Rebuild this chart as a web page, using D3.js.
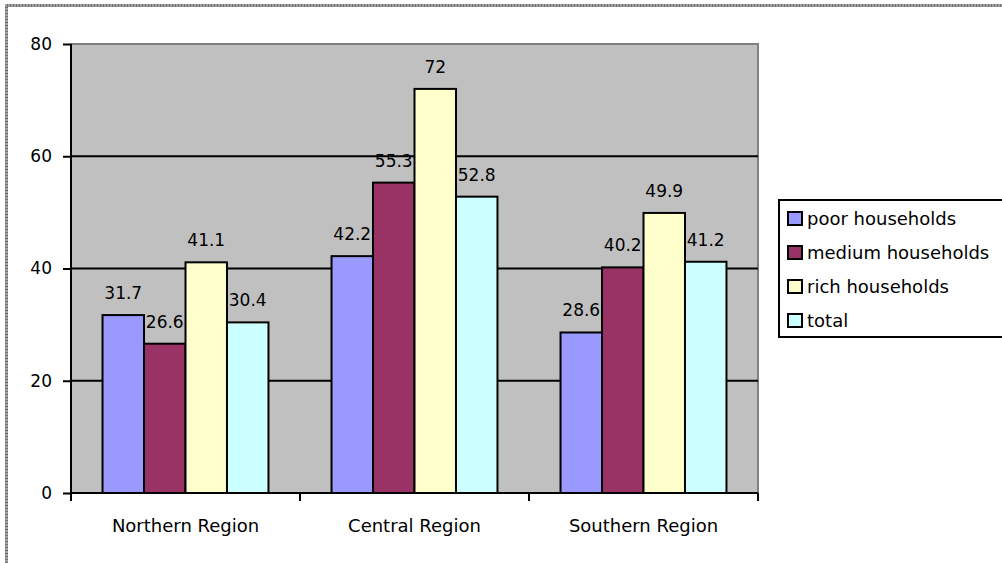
<!DOCTYPE html>
<html>
<head>
<meta charset="utf-8">
<script src="https://cdn.jsdelivr.net/npm/d3@7"></script>
<style>
  body { margin: 0; background: #fff; }
  svg text { font-family: "DejaVu Sans", Verdana, sans-serif; fill: #000; }
</style>
</head>
<body>
<svg id="chart" width="1002" height="563"></svg>
<script>
// Chart data
const regions = ['Northern Region', 'Central Region', 'Southern Region'];
const seriesNames = ['poor households', 'medium households', 'rich households', 'total'];
const seriesColors = ['#9999FF', '#993366', '#FFFFCC', '#CCFFFF'];
const poorValues = [31.7, 42.2, 28.6];
const mediumValues = [26.6, 55.3, 40.2];
const richValues = [41.1, 72, 49.9];
const totalValues = [30.4, 52.8, 41.2];
const yTicks = [0, 20, 40, 60, 80];

const seriesValues = [poorValues, mediumValues, richValues, totalValues];

const svg = d3.select('#chart');

// Frame around the chart object (speckled gray border)
const framePath = 'M6.5,563V5.5H1002';
svg.append('path').attr('d', framePath).attr('fill', 'none')
  .attr('stroke', '#a0a0a0').attr('stroke-width', 3);
svg.append('path').attr('d', framePath).attr('fill', 'none')
  .attr('stroke', '#707070').attr('stroke-width', 3).attr('stroke-dasharray', '1,2');

// Plot area
const plotL = 71, plotR = 758, plotT = 44, plotB = 493;

const x0 = d3.scaleBand().domain(regions).range([plotL, plotR]).paddingInner(0).paddingOuter(0);
const x1 = d3.scaleBand().domain(seriesNames).range([0, x0.bandwidth()]).paddingInner(0).paddingOuter(0.76);
const y = d3.scaleLinear().domain([0, 80]).range([plotB, plotT]);

svg.append('rect').attr('x', plotL).attr('y', plotT)
  .attr('width', plotR - plotL).attr('height', plotB - plotT)
  .attr('fill', '#C0C0C0').attr('stroke', '#808080').attr('stroke-width', 2);

// Gridlines
svg.append('g').selectAll('line')
  .data(yTicks.filter(d => d > 0 && d < 80))
  .join('line')
  .attr('x1', plotL).attr('x2', plotR)
  .attr('y1', d => y(d)).attr('y2', d => y(d))
  .attr('stroke', '#000').attr('stroke-width', 2);

// Bars
const groups = svg.append('g').selectAll('g')
  .data(regions)
  .join('g')
  .attr('transform', d => `translate(${x0(d)},0)`);

groups.selectAll('rect')
  .data((d, i) => seriesNames.map((s, j) => ({ s, j, v: seriesValues[j][i] })))
  .join('rect')
  .attr('x', d => x1(d.s))
  .attr('y', d => y(d.v))
  .attr('width', x1.bandwidth())
  .attr('height', d => y(0) - y(d.v))
  .attr('fill', d => seriesColors[d.j])
  .attr('stroke', '#000').attr('stroke-width', 2);

groups.selectAll('text')
  .data((d, i) => seriesNames.map((s, j) => ({ s, j, v: seriesValues[j][i] })))
  .join('text')
  .attr('x', d => x1(d.s) + x1.bandwidth() / 2)
  .attr('y', d => y(d.v) - 16)
  .attr('text-anchor', 'middle')
  .attr('font-size', '17px')
  .text(d => d.v);

// Y axis
const yAxis = svg.append('g')
  .attr('transform', `translate(${plotL},0)`)
  .call(d3.axisLeft(y).tickValues(yTicks).tickSize(8).tickPadding(11));
yAxis.select('.domain').attr('stroke', '#000').attr('stroke-width', 2).attr('d', `M0,${plotT}V${plotB}`);
yAxis.selectAll('.tick line').attr('stroke', '#000').attr('stroke-width', 2);
yAxis.selectAll('.tick text').attr('font-size', '17px').attr('font-family', '"DejaVu Sans", Verdana, sans-serif');

// X axis
const xAxis = svg.append('g')
  .attr('transform', `translate(0,${plotB})`)
  .call(d3.axisBottom(x0).tickSize(0).tickPadding(26));
xAxis.select('.domain').attr('stroke', '#000').attr('stroke-width', 2).attr('d', `M${plotL},0H${plotR}`);
xAxis.selectAll('.tick text').attr('font-size', '18px').attr('font-family', '"DejaVu Sans", Verdana, sans-serif');
// category boundary ticks
svg.append('g').selectAll('line')
  .data(regions.map(r => x0(r)).concat([plotR]))
  .join('line')
  .attr('x1', d => d).attr('x2', d => d)
  .attr('y1', plotB).attr('y2', plotB + 8)
  .attr('stroke', '#000').attr('stroke-width', 2);

// Legend
const legend = svg.append('g').attr('transform', 'translate(779,200)');
legend.append('rect').attr('x', 0).attr('y', 0).attr('width', 240).attr('height', 137)
  .attr('fill', '#fff').attr('stroke', '#000').attr('stroke-width', 2);
const items = legend.selectAll('g.item')
  .data(seriesNames)
  .join('g').attr('class', 'item')
  .attr('transform', (d, i) => `translate(0,${18 + i * 34})`);
items.append('rect')
  .attr('x', 9).attr('y', -6).attr('width', 14).attr('height', 13)
  .attr('fill', (d, i) => seriesColors[i]).attr('stroke', '#000').attr('stroke-width', 2);
items.append('text')
  .attr('x', 28).attr('y', 7)
  .attr('font-size', '18px')
  .text(d => d);
</script>
</body>
</html>
